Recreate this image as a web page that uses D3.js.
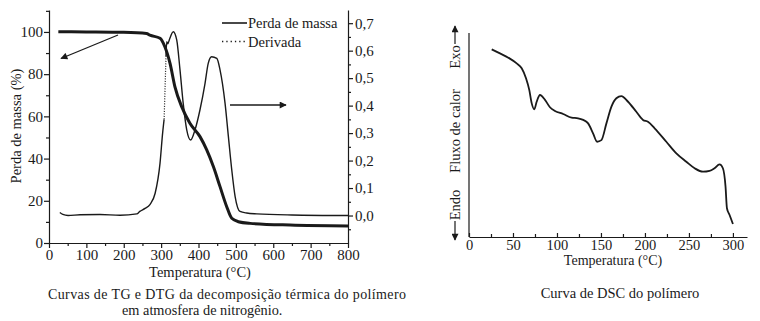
<!DOCTYPE html>
<html><head><meta charset="utf-8">
<script src="https://cdn.jsdelivr.net/npm/d3@7"></script>
<style>
html,body{margin:0;padding:0;background:#fff;}
svg{display:block;font-family:"Liberation Serif","Times New Roman",serif;}
</style></head>
<body><svg id="c" width="760" height="321"></svg>
<script>
// ---- TG / DTG data (left chart) ----
const tgTemp = [25, 100, 200, 261, 270, 297, 310, 324, 337, 355, 377, 404, 422, 440, 457.6, 475.5, 489, 506.6, 538, 645, 800];
const tgMass = [100.1, 100, 99.8, 99.3, 98.5, 97.0, 93.0, 85.0, 74.0, 64.6, 56.7, 50.4, 44.1, 36.1, 26.7, 17.2, 11.7, 10.1, 9.3, 8.5, 8.1];
const dtgTemp = [29, 37, 51, 83, 136, 190, 235, 243, 257, 270, 284, 297, 304, 308, 313, 315, 318, 322, 332.6, 341.7, 350.5, 359, 368.5, 379, 390.7, 404, 417.5, 426, 435, 449, 457.6, 471, 480, 489, 498, 511, 529, 556, 650, 800];
const dtgValue = [0.011, 0.004, 0.000, 0.003, 0.004, 0.001, 0.006, 0.015, 0.026, 0.04, 0.081, 0.19, 0.30, 0.35, 0.578, 0.633, 0.625, 0.64, 0.669, 0.639, 0.53, 0.409, 0.312, 0.275, 0.312, 0.385, 0.481, 0.554, 0.578, 0.572, 0.53, 0.409, 0.287, 0.166, 0.069, 0.015, 0.009, 0.006, 0.002, 0.0];
const dtgDottedFrom = 308, dtgDottedTo = 313;
const tgXTicks = [0, 100, 200, 300, 400, 500, 600, 700, 800];
const tgYTicks = [0, 20, 40, 60, 80, 100];
const dtgTicks = [0, 0.1, 0.2, 0.3, 0.4, 0.5, 0.6, 0.7];
const legendLabels = ["Perda de massa", "Derivada"];

// ---- DSC data (right chart) ----
const dscTemp = [25.8, 35.2, 44.7, 54.2, 59.9, 64.8, 68.5, 71.3, 74.2, 76.9, 80.7, 86.4, 92, 97.7, 107, 116.6, 124, 129.8, 135.4, 141, 145.6, 150.5, 156.2, 161.9, 167.5, 173.2, 180.8, 190.2, 197.8, 203.4, 211, 224.3, 235.7, 247, 256.5, 266, 273.4, 279, 284.8, 288.6, 291.6, 293.2, 296.2, 300];
const dscFlow = [92.0, 90.0, 87.9, 85.1, 82.7, 77.8, 72.1, 65.5, 62.6, 66.3, 69.6, 67.2, 63.6, 61.8, 60.3, 58.5, 58.2, 57.4, 55.7, 50.8, 46.7, 47.5, 55.7, 63.9, 68.0, 69.1, 66.3, 61.4, 57.4, 56.5, 53.3, 46.7, 41.0, 36.9, 33.7, 32.0, 32.4, 33.7, 35.6, 33.7, 24.7, 14.1, 10.8, 6.4];
const dscXTicks = [0, 50, 100, 150, 200, 250, 300];

const svg = d3.select("#c");
const ink = "#1a1a1a";
const fmtComma = d => d3.format(".1f")(d).replace(".", ",");

// ================= LEFT CHART =================
const x1 = d3.scaleLinear().domain([0, 800]).range([49, 348]);
const yL = d3.scaleLinear().domain([0, 110.4]).range([243, 10]);
const yR = d3.scaleLinear().domain([-0.1, 0.748]).range([243, 10]);

const g1 = svg.append("g");
const axB = g1.append("g").attr("transform", "translate(0,243)")
  .call(d3.axisBottom(x1).tickValues(tgXTicks).tickSize(5).tickSizeOuter(0).tickFormat(d3.format("d")));
g1.append("g").attr("transform", "translate(0,243)")
  .call(d3.axisBottom(x1).tickValues(d3.range(50, 800, 100)).tickSize(3).tickFormat(""))
  .select(".domain").remove();
const axL = g1.append("g").attr("transform", "translate(49,0)")
  .call(d3.axisLeft(yL).tickValues(tgYTicks).tickSize(5).tickSizeOuter(0));
g1.append("g").attr("transform", "translate(49,0)")
  .call(d3.axisLeft(yL).tickValues(d3.range(10, 111, 20)).tickSize(3).tickFormat(""))
  .select(".domain").remove();
const axR = g1.append("g").attr("transform", "translate(348,0)")
  .call(d3.axisRight(yR).tickValues(dtgTicks).tickSize(5).tickSizeOuter(0).tickFormat(fmtComma));
g1.append("g").attr("transform", "translate(348,0)")
  .call(d3.axisRight(yR).tickValues(d3.range(-0.05, 0.73, 0.1)).tickSize(3).tickFormat(""))
  .select(".domain").remove();

g1.selectAll(".domain, .tick line").attr("stroke", ink).attr("stroke-width", 1.2);
g1.selectAll(".tick text").attr("fill", ink).style("font-family", "Liberation Serif").style("font-size", "15px");
axB.selectAll(".tick text").attr("y", 6);
axL.selectAll(".tick text").attr("x", -6);
axR.selectAll(".tick text").attr("x", 7);

// curves
const tgLine = d3.line().x((d, i) => x1(tgTemp[i])).y((d, i) => yL(tgMass[i])).curve(d3.curveMonotoneX);
g1.append("path").attr("d", tgLine(tgMass)).attr("fill", "none").attr("stroke", ink).attr("stroke-width", 3);

const dtgPts = dtgTemp.map((t, i) => [t, dtgValue[i]]);
const dtgLine = d3.line().x(d => x1(d[0])).y(d => yR(d[1])).curve(d3.curveMonotoneX);
const seg1 = dtgPts.filter(d => d[0] <= dtgDottedFrom);
const seg2 = dtgPts.filter(d => d[0] >= dtgDottedFrom && d[0] <= dtgDottedTo);
const seg3 = dtgPts.filter(d => d[0] >= dtgDottedTo);
g1.append("path").attr("d", dtgLine(seg1)).attr("fill", "none").attr("stroke", ink).attr("stroke-width", 1.4);
g1.append("path").attr("d", dtgLine(seg2)).attr("fill", "none").attr("stroke", ink).attr("stroke-width", 1.2).attr("stroke-dasharray", "1,1.5");
g1.append("path").attr("d", dtgLine(seg3)).attr("fill", "none").attr("stroke", ink).attr("stroke-width", 1.4);

// legend
const lg = g1.append("g");
lg.append("line").attr("x1", 222).attr("x2", 247).attr("y1", 23).attr("y2", 23).attr("stroke", ink).attr("stroke-width", 1.6);
lg.append("line").attr("x1", 222).attr("x2", 247).attr("y1", 41.5).attr("y2", 41.5).attr("stroke", ink).attr("stroke-width", 1.3).attr("stroke-dasharray", "1.3,3");
lg.selectAll("text.lg").data(legendLabels).enter().append("text")
  .attr("x", 248).attr("y", (d, i) => 28 + i * 18.5).attr("fill", ink)
  .style("font-size", "14.5px").text(d => d);

// arrows
const defs = svg.append("defs");
defs.append("marker").attr("id", "ah").attr("viewBox", "0 0 10 10").attr("refX", 9).attr("refY", 5)
  .attr("markerWidth", 9).attr("markerHeight", 7).attr("markerUnits", "userSpaceOnUse").attr("orient", "auto")
  .append("path").attr("d", "M0,0 L10,5 L0,10 Z").attr("fill", ink);
g1.append("line").attr("x1", 118).attr("y1", 35).attr("x2", 61).attr("y2", 58.5)
  .attr("stroke", ink).attr("stroke-width", 1.3).attr("marker-end", "url(#ah)");
g1.append("line").attr("x1", 230).attr("y1", 105).attr("x2", 286).attr("y2", 105)
  .attr("stroke", ink).attr("stroke-width", 1.3).attr("marker-end", "url(#ah)");

// labels
g1.append("text").attr("x", 200).attr("y", 277).attr("text-anchor", "middle").attr("fill", ink)
  .style("font-size", "14.5px").text("Temperatura (°C)");
g1.append("text").attr("transform", "translate(21,126) rotate(-90)").attr("text-anchor", "middle").attr("fill", ink)
  .style("font-size", "14.5px").text("Perda de massa (%)");
g1.append("text").attr("x", 48).attr("y", 299).attr("fill", ink).attr("textLength", 358).attr("lengthAdjust", "spacing")
  .style("font-size", "14px").text("Curvas de TG e DTG da decomposição térmica do polímero");
g1.append("text").attr("x", 122).attr("y", 315).attr("fill", ink)
  .style("font-size", "14.3px").text("em atmosfera de nitrogênio.");

// ================= RIGHT CHART (DSC) =================
const x2 = d3.scaleLinear().domain([0, 316]).range([469, 747]);
const y2 = d3.scaleLinear().domain([0, 100]).range([237, 33]);
const g2 = svg.append("g");
const axB2 = g2.append("g").attr("transform", "translate(0,237)")
  .call(d3.axisTop(x2).tickValues(dscXTicks).tickSize(4).tickSizeOuter(0).tickFormat(d3.format("d")));
g2.append("g").attr("transform", "translate(0,237)")
  .call(d3.axisTop(x2).tickValues(d3.range(25, 300, 50)).tickSize(3).tickFormat(""))
  .select(".domain").remove();
g2.append("line").attr("x1", 469).attr("x2", 469).attr("y1", 33).attr("y2", 237).attr("stroke", ink).attr("stroke-width", 1.2);
g2.selectAll(".domain, .tick line").attr("stroke", ink).attr("stroke-width", 1.2);
axB2.selectAll(".tick text").attr("y", 13).attr("dy", 0).attr("fill", ink)
  .style("font-family", "Liberation Serif").style("font-size", "14.5px");

const dscLine = d3.line().x((d, i) => x2(dscTemp[i])).y((d, i) => y2(dscFlow[i])).curve(d3.curveMonotoneX);
g2.append("path").attr("d", dscLine(dscFlow)).attr("fill", "none").attr("stroke", ink).attr("stroke-width", 1.8);

g2.append("text").attr("x", 613).attr("y", 265).attr("text-anchor", "middle").attr("fill", ink)
  .style("font-size", "14px").text("Temperatura (°C)");
g2.append("text").attr("x", 620).attr("y", 298).attr("text-anchor", "middle").attr("fill", ink)
  .style("font-size", "14.5px").text("Curva de DSC do polímero");

const yl = [["Exo", 57], ["Fluxo de calor", 131], ["Endo", 205]];
g2.selectAll("text.yl").data(yl).enter().append("text")
  .attr("transform", d => `translate(460,${d[1]}) rotate(-90)`).attr("text-anchor", "middle").attr("fill", ink)
  .style("font-size", "14.5px").text(d => d[0]);
g2.append("line").attr("x1", 455).attr("x2", 455).attr("y1", 44).attr("y2", 26)
  .attr("stroke", ink).attr("stroke-width", 1.2).attr("marker-end", "url(#ah)");
g2.append("line").attr("x1", 455).attr("x2", 455).attr("y1", 221).attr("y2", 240)
  .attr("stroke", ink).attr("stroke-width", 1.2).attr("marker-end", "url(#ah)");
</script></body></html>
